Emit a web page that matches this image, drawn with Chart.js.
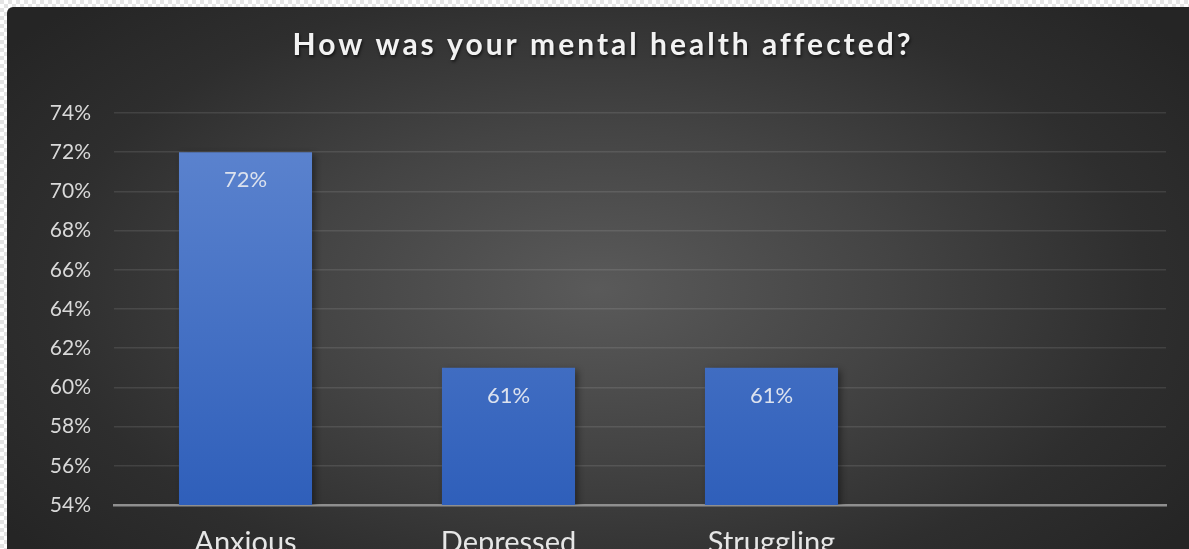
<!DOCTYPE html>
<html>
<head>
<meta charset="utf-8">
<title>Mental health</title>
<script src="https://cdn.jsdelivr.net/npm/chart.js@4.4.1/dist/chart.umd.min.js"></script>
<style>
  html, body {
    margin: 0;
    padding: 0;
    width: 1189px;
    height: 549px;
    overflow: hidden;
    background: repeating-conic-gradient(#ffffff 0 25%, #e4e4e4 0 50%) 0 0 / 8px 8px;
  }
  #quadro {
    position: absolute;
    left: 7px;
    top: 7px;
    width: 1182px;
    height: 542px;
    border-radius: 6px 0 0 0;
    background: radial-gradient(ellipse 62% 75% at 50% 52%, #5a5a5a 0%, #444444 40%, #2e2e2e 75%, #252525 100%);
    overflow: hidden;
  }
  canvas { display: block; }
</style>
</head>
<body>
<div id="quadro">
  <canvas id="grafico" width="1182" height="542"></canvas>
</div>
<script>
// dados do gráfico
const titulo = "How was your mental health affected?";
const categorias = ["Anxious", "Depressed", "Struggling", ""];
const valores = [72, 61, 61, null];
const ticksY = [54, 56, 58, 60, 62, 64, 66, 68, 70, 72, 74];

const fonte = "Lato, 'Open Sans', sans-serif";

// gradiente azul das barras
function corBarra(context) {
    const area = context.chart.chartArea;
    if (!area) return "#4472c4";
    const ctx = context.chart.ctx;
    const g = ctx.createLinearGradient(0, area.top, 0, area.bottom);
    g.addColorStop(0, "#5f86d0");
    g.addColorStop(1, "#2f5fba");
    return g;
}

// sombra das barras
const sombraBarras = {
    id: "sombraBarras",
    beforeDatasetsDraw(chart) {
        const ctx = chart.ctx;
        ctx.save();
        ctx.shadowColor = "rgba(0,0,0,0.45)";
        ctx.shadowBlur = 7;
        ctx.shadowOffsetX = 3;
        ctx.shadowOffsetY = 2;
    },
    afterDatasetsDraw(chart) {
        chart.ctx.restore();
    }
};

// título e rótulos de valor
const textos = {
    id: "textos",
    afterDraw(chart) {
        const ctx = chart.ctx;
        ctx.save();
        ctx.font = "bold 30px " + fonte;
        ctx.letterSpacing = "3px";
        ctx.fillStyle = "#f2f2f2";
        ctx.textAlign = "center";
        ctx.textBaseline = "middle";
        ctx.shadowColor = "rgba(0,0,0,0.6)";
        ctx.shadowBlur = 3;
        ctx.shadowOffsetX = 1;
        ctx.shadowOffsetY = 2;
        ctx.fillText(titulo, 596, 38);
        ctx.restore();

        ctx.save();
        ctx.font = "22px " + fonte;
        ctx.fillStyle = "#dce2ee";
        ctx.textAlign = "center";
        ctx.textBaseline = "middle";
        const meta = chart.getDatasetMeta(0);
        meta.data.forEach((barra, i) => {
            if (valores[i] == null) return;
            ctx.fillText(valores[i] + "%", barra.x, barra.y + 28);
        });
        ctx.restore();
    }
};

new Chart(document.getElementById("grafico"), {
    type: "bar",
    data: {
        labels: categorias,
        datasets: [{
            data: valores,
            backgroundColor: corBarra,
            borderWidth: 0,
            categoryPercentage: 1,
            barPercentage: 0.506
        }]
    },
    options: {
        responsive: false,
        animation: false,
        layout: { padding: { top: 106, right: 23, left: 0, bottom: 0 } },
        plugins: {
            legend: { display: false },
            tooltip: { enabled: false },
            title: { display: false }
        },
        scales: {
            x: {
                grid: { display: false, drawTicks: false },
                border: { display: true, color: "#8f8f8f", width: 2.5 },
                ticks: {
                    color: "#e6e6e6",
                    font: { family: fonte, size: 29 },
                    padding: 20
                },
                afterFit(scale) { scale.height = 44; }
            },
            y: {
                min: 54,
                max: 74,
                afterBuildTicks(scale) {
                    scale.ticks = ticksY.map(v => ({ value: v }));
                },
                grid: { color: "rgba(255,255,255,0.1)", lineWidth: 1.5, drawTicks: false },
                border: { display: false },
                ticks: {
                    color: "#d9d9d9",
                    font: { family: fonte, size: 21 },
                    padding: 23,
                    callback: v => v + "%"
                },
                afterFit(scale) { scale.width = 107; }
            }
        }
    },
    plugins: [sombraBarras, textos]
});
</script>
</body>
</html>
